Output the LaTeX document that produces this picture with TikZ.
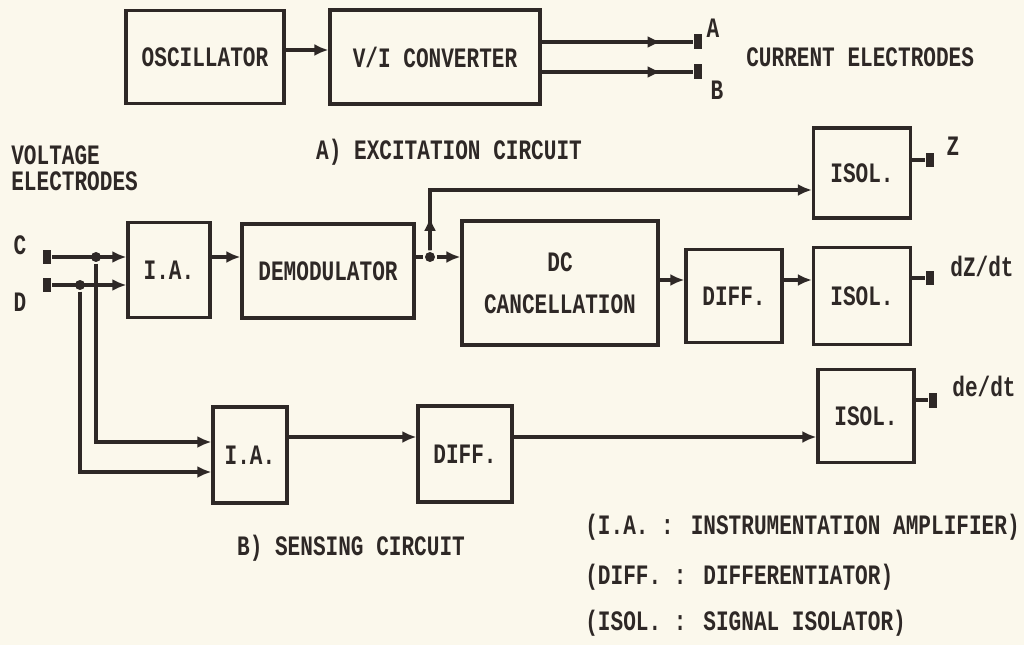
\documentclass[tikz,border=0pt]{standalone}
\usepackage{fontspec}
\setmainfont[FakeStretch=0.75]{Liberation Mono}
\usetikzlibrary{positioning, calc, arrows.meta}
\definecolor{paper}{RGB}{251,248,236}
\definecolor{ink}{RGB}{46,40,38}

\begin{document}
\begin{tikzpicture}[
  x=0.02cm, y=-0.02cm,
  >={Latex[length=2.8mm, width=2.4mm]}, line width=1.8pt, color=ink,
  font=\bfseries\fontsize{16}{18}\selectfont,
  blk/.style  = {draw, rectangle, inner sep=2pt, align=center},
  term/.style = {fill, rectangle, inner sep=0pt, minimum width=0.15cm, minimum height=0.3cm},
  jdot/.style = {fill, circle, inner sep=0pt, minimum size=0.2cm},
  txt/.style  = {inner sep=1pt, align=left},
]
  \fill[paper] (0,0) rectangle (1024,645);
  \useasboundingbox (0,0) rectangle (1024,645);

  % ── excitation circuit ────────────────────────────────────────────────
  \node[blk, minimum width=3.16cm, minimum height=1.86cm] (osc) at (205,57) {OSCILLATOR};
  \node[blk, minimum width=4.2cm,  minimum height=1.88cm] (vi)  at (435,57) {V/I CONVERTER};
  \coordinate (ro) at (0,50);
  \draw[->] (osc.east |- ro) -- (vi.west |- ro);

  \node[term] (ta) at (698,42) {};
  \node[term] (tb) at (698,72) {};
  \draw (vi.east |- ta) -- (ta);
  \draw (vi.east |- tb) -- (tb);
  \draw[->] (vi.east |- ta) -- ++(120,0);
  \draw[->] (vi.east |- tb) -- ++(120,0);

  \node[txt] at (713,28) {A};
  \node[txt] at (717,90) {B};
  \node[txt, anchor=west] at (743,57) {CURRENT ELECTRODES};
  \node[txt] at (449,152) {A) EXCITATION CIRCUIT};

  % ── sensing circuit: upper branch ─────────────────────────────────────
  \node[txt, anchor=north west, font=\bfseries\fontsize{16}{15}\selectfont] at (8,142)
        {VOLTAGE\\ELECTRODES};
  \node[txt] at (20,245) {C};
  \node[txt] at (20,302) {D};

  \node[blk, minimum width=1.64cm, minimum height=1.9cm]  (ia1)   at (169,270) {I.A.};
  \node[blk, minimum width=3.44cm, minimum height=1.88cm] (demod) at (328,271) {DEMODULATOR};
  \node[blk, minimum width=3.92cm, minimum height=2.48cm] (dc)    at (560,283) {DC\\[6pt]CANCELLATION};
  \node[blk, minimum width=1.92cm, minimum height=1.86cm] (diff1) at (734,296) {DIFF.};
  \node[blk, minimum width=1.94cm, minimum height=1.8cm]  (isolz) at (862,173) {ISOL.};
  \node[blk, minimum width=1.94cm, minimum height=1.94cm] (isold) at (862,296) {ISOL.};

  \node[term] (tc) at (47,257) {};
  \node[term] (td) at (47,285) {};
  \node[jdot] (jc) at (96,257) {};
  \node[jdot] (jd) at (80,285) {};
  \draw[->] (tc) -- (ia1.west |- tc);
  \draw[->] (td) -- (ia1.west |- td);
  \draw[->] (ia1.east |- tc) -- (demod.west |- tc);

  % demodulated signal splits: straight to Z, and through DC cancellation
  \node[jdot] (jz) at (430,257) {};
  \coordinate (kz) at (430,190);
  \draw (demod.east |- jz) -- (jz);
  \draw[->] (jz) -- (dc.west |- jz);
  \draw[->] (jz) -- ($(jz)!0.6!(kz)$);
  \draw[->] (jz) -- (kz) -- (kz -| isolz.west);

  \coordinate (rd) at (0,280);
  \draw[->] (dc.east |- rd) -- (diff1.west |- rd);
  \draw[->] (diff1.east |- rd) -- (isold.west |- rd);

  \node[term] (tz)  at (930,160) {};
  \node[term] (tdz) at (930,278) {};
  \draw (isolz.east |- tz) -- (tz);
  \draw (isold.east |- tdz) -- (tdz);
  \node[txt] at (953,146) {Z};
  \node[txt] at (982,266) {dZ/dt};

  % ── sensing circuit: lower branch ─────────────────────────────────────
  \node[blk, minimum width=1.48cm, minimum height=1.92cm] (ia2)   at (250,455) {I.A.};
  \node[blk, minimum width=1.88cm, minimum height=1.92cm] (diff2) at (465,454) {DIFF.};
  \node[blk, minimum width=1.92cm, minimum height=1.86cm] (isole) at (866,416) {ISOL.};

  \draw[->] (jc) |- ($(ia2.west)+(0,-13)$);
  \draw[->] (jd) |- ($(ia2.west)+(0,17)$);

  \coordinate (rb) at ($(ia2.east)+(0,-18)$);
  \draw[->] (rb) -- (rb -| diff2.west);
  \draw[->] (diff2.east |- rb) -- (isole.west |- rb);

  \node[term] (tde) at (933,400) {};
  \draw (isole.east |- tde) -- (tde);
  \node[txt] at (984,386) {de/dt};

  \node[txt] at (351,548) {B) SENSING CIRCUIT};

  % ── abbreviations ─────────────────────────────────────────────────────
  \node[txt, anchor=west] at (582,527) {(I.A. : INSTRUMENTATION AMPLIFIER)};
  \node[txt, anchor=west] at (582,577) {(DIFF. : DIFFERENTIATOR)};
  \node[txt, anchor=west] at (582,623) {(ISOL. : SIGNAL ISOLATOR)};

\end{tikzpicture}
\end{document}
